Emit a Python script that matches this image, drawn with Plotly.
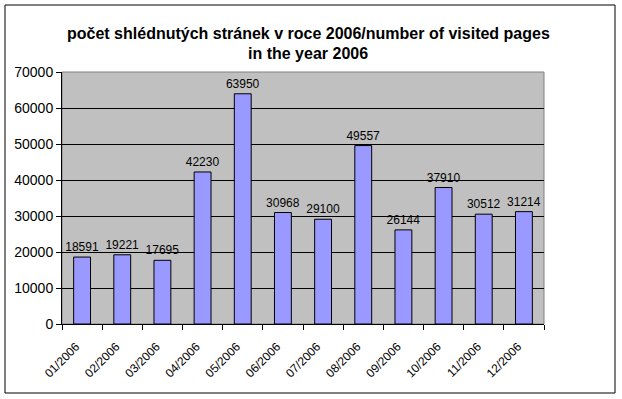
import plotly.graph_objects as go

months = ["01/2006", "02/2006", "03/2006", "04/2006", "05/2006", "06/2006",
          "07/2006", "08/2006", "09/2006", "10/2006", "11/2006", "12/2006"]
visits = [18591, 19221, 17695, 42230, 63950, 30968, 29100, 49557, 26144, 37910, 30512, 31214]
y_ticks = [0, 10000, 20000, 30000, 40000, 50000, 60000, 70000]
title_lines = ["počet shlédnutých stránek v roce 2006/number of visited pages", "in the year 2006"]

W, H = 622, 399
L, R, T, B = 62, 78, 72, 75
pw, ph = W - L - R, H - T - B

fig = go.Figure(go.Bar(
    x=months, y=visits,
    marker=dict(color="#9999FF", line=dict(color="black", width=1)),
    text=[str(v) for v in visits], textposition="outside", constraintext="none",
    textfont=dict(family="Arial", size=12, color="black"),
    cliponaxis=False, width=0.42,
))

def px_x(p):
    return (p - L) / pw

def px_y(p):
    return (H - B - p) / ph

annotations = [
    dict(text="<b>%s</b>" % line, xref="paper", yref="paper", x=px_x(308), y=px_y(yc),
         xanchor="center", yanchor="middle", showarrow=False,
         font=dict(family="Arial", size=16, color="black"))
    for line, yc in zip(title_lines, [33, 53])
]

fig.update_layout(
    width=W, height=H,
    margin=dict(l=L, r=R, t=T, b=B),
    paper_bgcolor="white", plot_bgcolor="#C0C0C0",
    font=dict(family="Arial", color="black"),
    showlegend=False,
    annotations=annotations,
    xaxis=dict(type="category", tickangle=-45, ticks="outside", tickson="boundaries",
               ticklen=5, tickcolor="black", showline=True, linecolor="black", linewidth=1,
               ticklabelstandoff=10, ticklabelshift=-6,
               showgrid=False, tickfont=dict(family="Arial", size=12, color="black")),
    yaxis=dict(range=[0, 70000], tickvals=y_ticks, ticktext=[str(v) for v in y_ticks],
               ticks="outside", ticklen=5, tickcolor="black",
               showline=True, linecolor="black", linewidth=1,
               showgrid=True, gridcolor="black", gridwidth=1, zeroline=False,
               tickfont=dict(family="Arial", size=14, color="black")),
    shapes=[
        dict(type="rect", xref="paper", yref="paper", x0=0, x1=1, y0=0, y1=1,
             line=dict(color="#808080", width=1), layer="below"),
        dict(type="rect", xref="paper", yref="paper",
             x0=px_x(5), x1=px_x(615), y0=px_y(393), y1=px_y(5),
             line=dict(color="black", width=1)),
    ],
)

fig.write_html("out.html", config={"displayModeBar": False},
               post_script="document.body.style.margin='0';document.body.style.overflow='hidden';")
